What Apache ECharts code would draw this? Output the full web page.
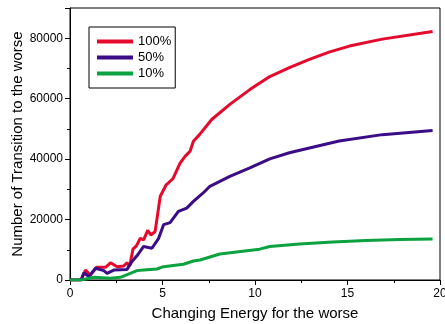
<!DOCTYPE html>
<html>
<head>
<meta charset="utf-8">
<script src="https://cdn.jsdelivr.net/npm/echarts@6/dist/echarts.min.js"></script>
<style>
  html, body { margin: 0; padding: 0; background: #fff; }
</style>
</head>
<body>
<div id="main" style="width:445px; height:324px;"></div>
<script>
// values
const seriesNames = ['100%', '50%', '10%']

const x100 = [0, 0.6, 0.84, 1.1, 1.44, 1.92, 2.19, 2.55, 2.9, 3.08, 3.23, 3.4, 3.59, 3.8, 3.98, 4.2, 4.37, 4.6, 4.88, 5.2, 5.56, 5.95, 6.22, 6.49, 6.67, 7.0, 7.66, 8.64, 9.72, 10.8, 11.86, 12.94, 14.0, 15.1, 16.88, 19.6]
const y100 = [0, 0, 3300, 1600, 4200, 4200, 5700, 4400, 4600, 5700, 4600, 10200, 11300, 13800, 13300, 16400, 14900, 16000, 27700, 31500, 33500, 38700, 40900, 42600, 45900, 48100, 53100, 58100, 63000, 67300, 70300, 73000, 75400, 77400, 79700, 82200]

const x50 = [0, 0.6, 0.75, 1.02, 1.38, 1.83, 2.0, 2.37, 3.08, 3.35, 3.62, 3.98, 4.43, 4.79, 5.06, 5.41, 5.86, 6.31, 6.67, 7.2, 7.56, 8.64, 9.72, 10.8, 11.86, 12.94, 14.55, 16.88, 19.6]
const y50 = [0, 0, 2400, 1100, 3900, 3100, 2200, 3300, 3500, 6100, 8000, 11100, 10500, 13800, 18300, 19000, 22700, 23800, 26000, 28800, 31000, 34300, 37100, 40100, 42100, 43700, 46000, 48100, 49500]

const x10 = [0, 0.6, 1.0, 1.29, 2.19, 2.73, 3.62, 3.98, 4.7, 5.05, 6.13, 6.67, 7.03, 8.1, 9.0, 10.25, 10.8, 12.4, 14.2, 16.0, 17.8, 19.6]
const y10 = [0, 0, 500, 900, 560, 900, 3100, 3300, 3650, 4400, 5200, 6300, 6600, 8600, 9300, 10200, 11100, 11950, 12600, 13050, 13400, 13600]

const colors = ['#e5092c', '#3a0c86', '#0ba23f']

function pairs (xs, ys) {
  return xs.map((x, i) => [x, ys[i]])
}

const chart = echarts.init(document.getElementById('main'))

const option = {
  animation: false,
  textStyle: { fontFamily: 'Liberation Sans, Arial, sans-serif', color: '#000' },
  grid: {
    left: 70,
    right: 5,
    top: 8,
    bottom: 44,
    containLabel: false,
    outerBoundsMode: 'none',
    show: true,
    borderColor: '#000',
    borderWidth: 1
  },
  legend: {
    data: seriesNames.map((n, i) => ({ name: n, icon: 'rect', itemStyle: { color: colors[i] } })),
    orient: 'vertical',
    left: 89,
    top: 27,
    padding: [8, 4, 8, 8],
    itemWidth: 36,
    itemHeight: 4,
    itemGap: 3,
    borderColor: '#000',
    borderWidth: 1,
    textStyle: { fontSize: 13, color: '#000', fontFamily: 'Liberation Sans, Arial, sans-serif' }
  },
  xAxis: {
    type: 'value',
    min: 0,
    max: 20,
    interval: 5,
    name: 'Changing Energy for the worse',
    nameLocation: 'middle',
    nameGap: 26,
    nameMoveOverlap: false,
    nameTextStyle: { fontSize: 15, color: '#000' },
    axisLine: { lineStyle: { color: '#000', width: 1 } },
    axisTick: { inside: false, length: 5, lineStyle: { color: '#000' } },
    minorTick: { show: true, splitNumber: 2, length: 3, lineStyle: { color: '#000' } },
    axisLabel: { fontSize: 12, color: '#000', margin: 8 },
    splitLine: { show: false }
  },
  yAxis: {
    type: 'value',
    min: 0,
    max: 90000,
    interval: 20000,
    name: 'Number of Transition to the worse',
    nameLocation: 'middle',
    nameGap: 45,
    nameMoveOverlap: false,
    nameTextStyle: { fontSize: 15, color: '#000' },
    axisLine: { show: true, lineStyle: { color: '#000', width: 1 } },
    axisTick: { show: true, inside: false, length: 5, lineStyle: { color: '#000' } },
    minorTick: { show: true, splitNumber: 2, length: 3, lineStyle: { color: '#000' } },
    axisLabel: {
      fontSize: 12,
      color: '#000',
      margin: 7,
      formatter: v => (v % 20000 === 0 && v <= 80000) ? String(v) : ''
    },
    splitLine: { show: false }
  },
  series: [
    { name: seriesNames[0], type: 'line', data: pairs(x100, y100), showSymbol: false, color: colors[0], lineStyle: { width: 3 } },
    { name: seriesNames[1], type: 'line', data: pairs(x50, y50), showSymbol: false, color: colors[1], lineStyle: { width: 3 } },
    { name: seriesNames[2], type: 'line', data: pairs(x10, y10), showSymbol: false, color: colors[2], lineStyle: { width: 3 } }
  ]
}

chart.setOption(option)
</script>
</body>
</html>
